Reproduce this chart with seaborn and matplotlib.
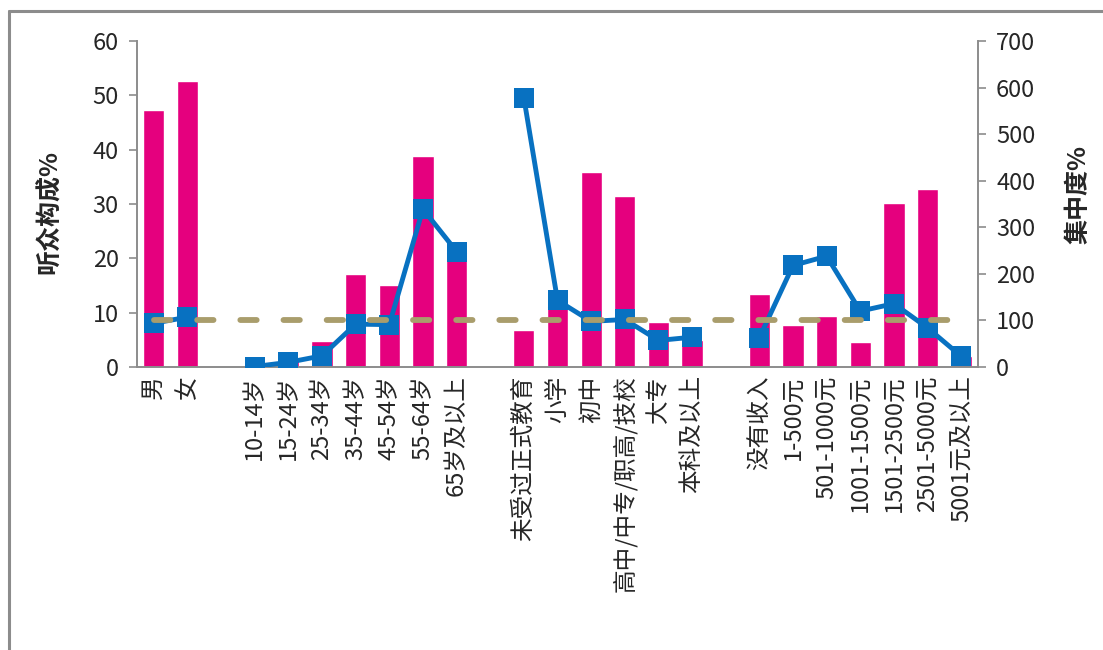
#听众构成 (bars, left axis) and 集中度 (line, right axis)
import numpy as np
import pandas as pd
import matplotlib
matplotlib.use('Agg')
import matplotlib.pyplot as plt
from matplotlib.lines import Line2D
import seaborn as sns

#categories, blank slots separate the groups
categories = ['男', '女', ' ',
              '10-14岁', '15-24岁', '25-34岁', '35-44岁', '45-54岁', '55-64岁', '65岁及以上', '  ',
              '未受过正式教育', '小学', '初中', '高中/中专/职高/技校', '大专', '本科及以上', '   ',
              '没有收入', '1-500元', '501-1000元', '1001-1500元', '1501-2500元', '2501-5000元', '5001元及以上']

#听众构成%
share = [47.3, 52.7, np.nan,
         0.3, 1.5, 4.8, 17.1, 15.1, 38.9, 21.0, np.nan,
         6.9, 11.0, 35.8, 31.4, 8.2, 5.0, np.nan,
         13.5, 7.7, 9.3, 4.6, 30.2, 32.8, 2.0]

#集中度%
concentration = [94, 107, np.nan,
                 1, 10, 24, 92, 91, 339, 248, np.nan,
                 578, 143, 98, 102, 57, 64, np.nan,
                 63, 218, 238, 120, 136, 84, 23]

baseline = 100

pink = '#E5007E'
blue = '#0871C1'
khaki = '#A99D6C'
grey = '#8C8C8C'

df = pd.DataFrame({'cat': categories, 'share': share, 'conc': concentration})
df['pos'] = np.arange(len(df))

sns.set_style('white')
plt.rcParams['font.family'] = ['Noto Sans CJK SC', 'DejaVu Sans']

fig = plt.figure(figsize=(11.03, 6.5), dpi=100)
ax = fig.add_axes([0.1242, 0.4354, 0.7625, 0.5015])

sns.barplot(data=df, x='cat', y='share', order=categories, color=pink,
            width=0.63, saturation=1, ax=ax)
ax.set_xlim(-0.5, len(categories) - 0.5)
ax.set_ylim(0, 60)
ax.set_yticks(range(0, 61, 10))

ax2 = ax.twinx()
#line breaks at the blank slots
seg_id = df['conc'].isna().cumsum()
for _, seg in df.dropna(subset=['conc']).groupby(seg_id[df['conc'].notna()]):
    sns.lineplot(x=seg['pos'], y=seg['conc'], ax=ax2, color=blue, linewidth=3.5,
                 marker='s', markersize=15, markeredgewidth=0, zorder=3)
ax2.plot([df['pos'].iloc[0], df['pos'].iloc[-1]], [baseline, baseline],
         color=khaki, linewidth=4.2, linestyle=(0, (2.8, 4.6)),
         dash_capstyle='round', zorder=4)
ax2.set_ylim(0, 700)
ax2.set_yticks(range(0, 701, 100))
ax2.set_xlim(-0.5, len(categories) - 0.5)

for a in (ax, ax2):
    for s in a.spines.values():
        s.set_visible(False)
    a.tick_params(axis='y', direction='out', length=6, width=1.2, color=grey,
                  labelsize=17, pad=7)
    a.set_xlabel('')
ax.spines['left'].set_visible(True)
ax.spines['left'].set_color(grey)
ax.spines['left'].set_linewidth(1.4)
ax.spines['bottom'].set_visible(True)
ax.spines['bottom'].set_color(grey)
ax.spines['bottom'].set_linewidth(1.4)
ax2.spines['right'].set_visible(True)
ax2.spines['right'].set_color(grey)
ax2.spines['right'].set_linewidth(1.4)

ax.set_xticks(df['pos'])
ax.set_xticklabels(categories, rotation=90, fontsize=17)
ax.tick_params(axis='x', length=0, pad=6)

ax.set_ylabel('听众构成%', fontsize=18, fontweight='bold')
ax.yaxis.set_label_coords(-0.089, 0.475)
ax2.set_ylabel('集中度%', fontsize=18, fontweight='bold', rotation=90)
ax2.yaxis.set_label_coords(1.105, 0.528)

#chart area border (top and left edges visible)
fig.add_artist(Line2D([9 / 1103, 9 / 1103], [0, 1 - 11 / 650], color=grey, linewidth=2.2))
fig.add_artist(Line2D([9 / 1103, 1], [1 - 11 / 650, 1 - 11 / 650], color=grey, linewidth=2.2))

fig.savefig('out.png', dpi=100)
